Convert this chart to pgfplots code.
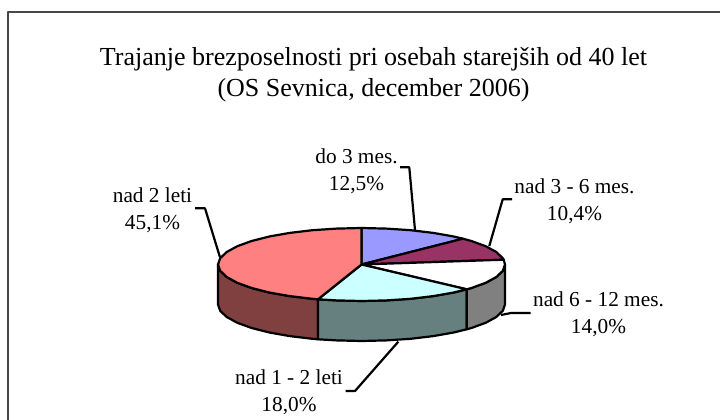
\documentclass[border=0pt]{standalone}
\usepackage{pgfplots}
\pgfplotsset{compat=1.18}
\usepackage{fontspec}
\setmainfont{Liberation Serif}
\begin{document}
\begin{tikzpicture}
\begin{axis}[x=1pt,y=1pt,scale only axis,width=720pt,height=420pt,
  xmin=0,xmax=720,ymin=0,ymax=420,y dir=reverse,axis lines=none,clip=true,
  every axis plot/.append style={line width=2.2pt,draw=black,line join=round}]
% page extent
\addplot[draw=white,line width=0pt,fill=white] coordinates {(0,0)(720,0)(720,420)(0,420)} -- cycle;
% frame
\addplot[line width=1.9pt,draw=black!72,fill=none] coordinates {(8,420) (8,12) (720,12)};
% side: nad 2 leti
\addplot[fill={rgb,255:red,128;green,64;blue,64}] coordinates {
(318,299.3)(312.4,298.8)(289.7,296.1)(269.3,292.5)(251.6,288)(237.2,282.75)(226.7,277)(220.2,270.8)(218,264.5)
(218,304.5)(220.2,310.8)(226.7,317)(237.2,322.75)(251.6,328)(269.3,332.5)(289.7,336.1)(312.4,338.8)(318,339.3)} -- cycle;
% side: nad 1 - 2 leti
\addplot[fill={rgb,255:red,102;green,128;blue,128}] coordinates {
(466.7,289.3)(453.7,292.5)(433.3,296.1)(410.6,298.8)(386.4,300.4)(361.5,301)(336.6,300.4)(318,299.3)
(318,339.3)(336.6,340.4)(361.5,341)(386.4,340.4)(410.6,338.8)(433.3,336.1)(453.7,332.5)(466.7,329.3)} -- cycle;
% side: nad 6 - 12 mes.
\addplot[fill={rgb,255:red,128;green,128;blue,128}] coordinates {
(505,264.5)(502.8,270.8)(496.3,277)(485.8,282.75)(471.4,288)(466.7,289.3)
(466.7,329.3)(471.4,328)(485.8,322.75)(496.3,317)(502.8,310.8)(505,304.5)} -- cycle;
% top: do 3 mes.
\addplot[fill={rgb,255:red,153;green,153;blue,255}] coordinates {
(361.5,264.5)(361.5,228)(386.4,228.6)(410.6,230.2)(433.3,232.9)(453.7,236.5)(463,238.7)} -- cycle;
% top: nad 3 - 6 mes.
\addplot[fill={rgb,255:red,153;green,51;blue,102}] coordinates {
(361.5,264.5)(463,238.7)(471.4,241)(485.8,246.25)(496.3,252)(502.8,258.2)(503.7,259.7)} -- cycle;
% top: nad 6 - 12 mes.
\addplot[fill=white] coordinates {
(361.5,264.5)(503.7,259.7)(505,264.5)(502.8,270.8)(496.3,277)(485.8,282.75)(471.4,288)(466.7,289.3)} -- cycle;
% top: nad 1 - 2 leti
\addplot[fill={rgb,255:red,204;green,255;blue,255}] coordinates {
(361.5,264.5)(466.7,289.3)(453.7,292.5)(433.3,296.1)(410.6,298.8)(386.4,300.4)(361.5,301)(336.6,300.4)(318,299.3)} -- cycle;
% top: nad 2 leti
\addplot[fill={rgb,255:red,255;green,128;blue,128}] coordinates {
(361.5,264.5)(318,299.3)(312.4,298.8)(289.7,296.1)(269.3,292.5)(251.6,288)(237.2,282.75)(226.7,277)(220.2,270.8)(218,264.5)(220.2,258.2)(226.7,252)(237.2,246.25)(251.6,241)(269.3,236.5)(289.7,232.9)(312.4,230.2)(336.6,228.6)(361.5,228)} -- cycle;
% leaders
\addplot[fill=none] coordinates {(489.3,246)(502.7,199.3)(512,199.3)};
\addplot[fill=none] coordinates {(501,315)(511,313)(530.7,313)};
\addplot[fill=none] coordinates {(220,257.3)(205,208.3)(195,208.3)};
\addplot[fill=none] coordinates {(398.3,341.7)(355,391)(345.7,391)};
\addplot[fill=none] coordinates {(415,230)(409.3,167.3)(400,167.3)};
% texts
\node[align=center,font=\fontsize{26}{31.5}\selectfont] at (axis cs:373.5,74.5) {Trajanje brezposelnosti pri osebah starejših od 40 let\\(OS Sevnica, december 2006)};
\node[align=center,font=\fontsize{21.3}{27}\selectfont] at (axis cs:356.5,171) {do 3 mes.\\12,5\%};
\node[align=center,font=\fontsize{21.3}{27}\selectfont] at (axis cs:574.5,201.5) {nad 3 - 6 mes.\\10,4\%};
\node[align=center,font=\fontsize{21.3}{27}\selectfont] at (axis cs:598.5,314.5) {nad 6 - 12 mes.\\14,0\%};
\node[align=center,font=\fontsize{21.3}{27}\selectfont] at (axis cs:152.5,210) {nad 2 leti\\45,1\%};
\node[align=center,font=\fontsize{21.3}{27}\selectfont] at (axis cs:289,392.5) {nad 1 - 2 leti\\18,0\%};
\end{axis}
\end{tikzpicture}
\end{document}
